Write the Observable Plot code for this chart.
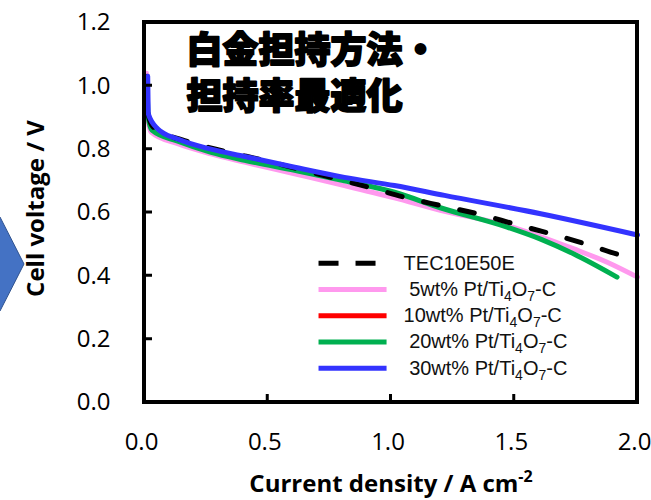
<!DOCTYPE html>
<html><head><meta charset="utf-8">
<script src="https://cdn.jsdelivr.net/npm/d3@7"></script>
<script src="https://cdn.jsdelivr.net/npm/@observablehq/plot@0.6"></script>
<style>
body{margin:0;background:#fff;}
#chart{width:651px;height:500px;}
</style>
</head><body><div id="chart"></div>
<script>
// ---- data ----
const seriesNames = ["TEC10E50E", " 5wt% Pt/Ti4O7-C", "10wt% Pt/Ti4O7-C", " 20wt% Pt/Ti4O7-C", " 30wt% Pt/Ti4O7-C"];
const seriesColors = ["#000000", "#FF99EE", "#FF0000", "#00B050", "#3333FF"];

const tecCurrent = [0.010, 0.014, 0.030, 0.080, 0.162, 0.310, 0.500, 0.700, 0.917, 1.055, 1.200, 1.350, 1.500, 1.647, 1.796, 1.938, 2.000];
const tecVoltage = [1.030, 0.915, 0.875, 0.850, 0.827, 0.796, 0.762, 0.722, 0.678, 0.648, 0.622, 0.596, 0.564, 0.533, 0.499, 0.464, 0.452];

const pt5Current = [0.008, 0.012, 0.027, 0.135, 0.270, 0.406, 0.609, 0.811, 1.014, 1.200, 1.471, 1.742, 1.877, 2.000];
const pt5Voltage = [1.040, 0.905, 0.854, 0.817, 0.785, 0.759, 0.722, 0.685, 0.646, 0.607, 0.559, 0.485, 0.443, 0.396];

const pt10Current = [];
const pt10Voltage = [];

const pt20Current = [0.010, 0.015, 0.030, 0.135, 0.270, 0.406, 0.609, 0.811, 1.014, 1.200, 1.471, 1.607, 1.742, 1.917];
const pt20Voltage = [1.020, 0.900, 0.860, 0.825, 0.790, 0.765, 0.733, 0.700, 0.664, 0.615, 0.554, 0.516, 0.469, 0.396];

const pt30Current = [0.013, 0.016, 0.054, 0.135, 0.270, 0.406, 0.609, 0.811, 1.014, 1.217, 1.607, 2.000];
const pt30Voltage = [1.030, 0.910, 0.864, 0.832, 0.800, 0.777, 0.743, 0.711, 0.685, 0.654, 0.596, 0.529];

const xTicks = [0, 0.5, 1.0, 1.5, 2.0];
const yTicks = [0, 0.2, 0.4, 0.6, 0.8, 1.0, 1.2];
const titleLines = ["白金担持方法・", "担持率最適化"];
const xLabel = "Current density / A cm-2";
const yLabel = "Cell voltage / V";

// ---- build tables ----
const toRows = (xs, ys, name) => xs.map((x, i) => ({x, y: ys[i], name}));
const tec = toRows(tecCurrent, tecVoltage, seriesNames[0]);
const pt5 = toRows(pt5Current, pt5Voltage, seriesNames[1]);
const pt10 = toRows(pt10Current, pt10Voltage, seriesNames[2]);
const pt20 = toRows(pt20Current, pt20Voltage, seriesNames[3]);
const pt30 = toRows(pt30Current, pt30Voltage, seriesNames[4]);

const xMin = xTicks[0], xMax = xTicks[xTicks.length - 1];
const yMin = yTicks[0], yMax = yTicks[yTicks.length - 1];

// legend layout (in data units)
const legX1 = 0.706, legX2 = 0.982, legTextX = 1.051;
const legY0 = 0.440, legStep = 0.083;
const legend = seriesNames.map((name, i) => ({name, i, y: legY0 - i * legStep, x1: legX1, x2: legX2, tx: legTextX}));

const lineOpts = {x: "x", y: "y", strokeWidth: 5, curve: "monotone-x", strokeLinecap: "round", strokeLinejoin: "round"};

const legendMarks = legend.map((d, i) =>
  Plot.link([d], {x1: "x1", x2: "x2", y1: "y", y2: "y", stroke: seriesColors[i], strokeWidth: 5,
    ...(i === 0 ? {strokeDasharray: "20,17"} : {})}));

const chart = Plot.plot({
  width: 651, height: 500,
  marginLeft: 144, marginRight: 14, marginTop: 22, marginBottom: 98,
  style: {fontFamily: "Open Sans", fontSize: "24px", background: "white"},
  x: {domain: [xMin, xMax], ticks: xTicks},
  y: {domain: [yMin, yMax], ticks: yTicks},
  marks: [
    Plot.axisX({ticks: xTicks, tickSize: 0, tickPadding: 30, tickFormat: d3.format(".1f"), label: null, fontSize: 24, dx: -3}),
    Plot.axisY({ticks: yTicks, tickSize: 0, tickPadding: 34, tickFormat: d3.format(".1f"), label: null, fontSize: 24}),
    Plot.line(pt5, {...lineOpts, stroke: seriesColors[1]}),
    Plot.line(pt10, {...lineOpts, stroke: seriesColors[2]}),
    Plot.line(pt20, {...lineOpts, stroke: seriesColors[3]}),
    Plot.line(tec, {...lineOpts, stroke: seriesColors[0], strokeDasharray: "15,22"}),
    Plot.line(pt30, {...lineOpts, stroke: seriesColors[4]}),
    ...legendMarks,
    Plot.text(legend, {x: "tx", y: "y", text: "name", textAnchor: "start", fontFamily: "Liberation Sans, Arial", fontSize: 20, fill: "#111"}),
    // title
    Plot.text([titleLines.join("\n")], {frameAnchor: "top-left", dx: 42, dy: 8, lineAnchor: "top", lineHeight: 1.28,
      textAnchor: "start", fontSize: 36, fontWeight: 900, fontFamily: "Noto Sans CJK JP", fill: "#000",
      stroke: "#000", strokeWidth: 1.8}),
    // axis titles
    Plot.text([yLabel], {frameAnchor: "left", textAnchor: "middle", lineAnchor: "middle", dx: -108, dy: -4, rotate: -90,
      fontWeight: "bold", fontSize: 24, fontFamily: "Open Sans"}),
    Plot.text([xLabel], {frameAnchor: "bottom", textAnchor: "middle", lineAnchor: "middle", dx: 0, dy: 82,
      fontWeight: "bold", fontSize: 24, fontFamily: "Open Sans"})
  ]
});

document.getElementById("chart").append(chart);
const svg = d3.select(chart);

// plot box and inward ticks, positioned with the chart's own scales
const sx = chart.scale("x"), sy = chart.scale("y");
const X = v => sx.apply(v), Y = v => sy.apply(v);
const tickLen = 8;
let d = `M${X(xMin)},${Y(yMin)}H${X(xMax)}V${Y(yMax)}H${X(xMin)}Z`;
const g = svg.append("g").attr("class", "boxticks");
g.append("path").attr("d", d).attr("fill", "none").attr("stroke", "#000").attr("stroke-width", 4)
  .attr("stroke-linejoin", "miter");
let td = "";
xTicks.slice(1, -1).forEach(v => { td += `M${X(v)},${Y(yMin)}v${-tickLen}`; });
yTicks.slice(1, -1).forEach(v => { td += `M${X(xMin)},${Y(v)}h${tickLen}`; });
g.append("path").attr("d", td).attr("fill", "none").attr("stroke", "#000").attr("stroke-width", 3);

// chevron decoration at the left edge
svg.insert("polygon", ":first-child")
  .attr("points", "-10,217 0,217 24,264 0,311 -10,311")
  .attr("fill", "#4472C4").attr("stroke", "#2F528F").attr("stroke-width", 1);

// subscripts / superscripts
svg.selectAll("text").each(function() {
  const t = this.textContent;
  if (/Ti4O7/.test(t) && this.childElementCount === 0) {
    const [pre, post] = t.split("Ti4O7");
    const el = d3.select(this); el.text(null);
    el.append("tspan").text(pre + "Ti");
    el.append("tspan").attr("dy", "5").attr("font-size", "14").text("4");
    el.append("tspan").attr("dy", "-5").text("O");
    el.append("tspan").attr("dy", "5").attr("font-size", "14").text("7");
    el.append("tspan").attr("dy", "-5").text(post);
  } else if (t === xLabel) {
    const el = d3.select(this); el.text(null);
    el.append("tspan").text("Current density / A cm");
    el.append("tspan").attr("dy", "-10").attr("font-size", "16").text("-2");
  }
});
svg.selectAll("text").style("white-space", "pre");
</script>
</body></html>
